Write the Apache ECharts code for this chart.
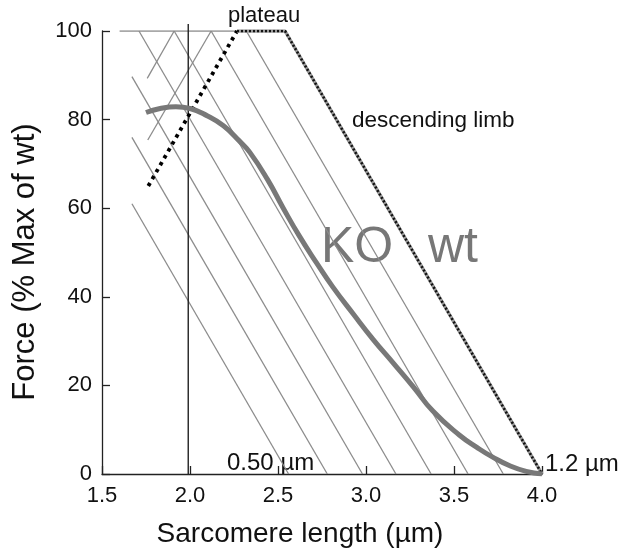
<!DOCTYPE html>
<html>
<head>
<meta charset="utf-8">
<script src="https://cdn.jsdelivr.net/npm/echarts@6/dist/echarts.min.js"></script>
<style>
  html, body { margin: 0; padding: 0; background: #fff; }
  #chart { width: 623px; height: 549px; }
</style>
</head>
<body>
<div id="chart"></div>
<script>
// thin overlap lines, [start, end] in (µm, %)
const descLines = [
  [[1.67, 61], [2.56, 0]],
  [[1.67, 76], [2.78, 0]],
  [[1.67, 89.7], [2.98, 0]],
  [[1.71, 100], [3.17, 0]],
  [[1.91, 100], [3.37, 0]],
  [[2.12, 100], [3.58, 0]],
  [[2.32, 100], [3.78, 0]]
];
const ascLines = [
  [[1.757, 89.3], [1.91, 100]],
  [[1.76, 75.4], [2.12, 100]]
];
const topLine = [[1.60, 100], [2.27, 100]];
const refLine = [[1.99, 0], [1.99, 101.6]];

// wt length-tension outline
const ascLimb = [[1.763, 65], [2.267, 100]];
const plateau = [[2.267, 100], [2.54, 100]];
const descLimb = [[2.54, 100], [4.0, 0]];

// KO curve
const koX = [1.75, 1.83, 1.92, 2.00, 2.10, 2.19, 2.28, 2.34, 2.44, 2.53, 2.62, 2.72,
  2.81, 2.93, 3.04, 3.16, 3.27, 3.38, 3.53, 3.63, 3.72, 3.82, 3.91, 4.00];
const koY = [81.6, 82.5, 82.9, 82.5, 80.8, 78.6, 75.2, 72.6, 66.5, 60.0, 53.8, 47.6,
  42.3, 36.0, 30.4, 24.8, 19.6, 14.2, 8.8, 6.0, 3.8, 1.8, 0.6, 0];

const FONT = '"Liberation Sans", Arial, Helvetica, sans-serif';

const thin = (data) => ({
  type: 'line',
  data: data,
  symbol: 'none',
  silent: true,
  lineStyle: { color: '#8c8c8c', width: 1.3 }
});

const text = (str, x, y, size, color, extra) => Object.assign({
  type: 'text',
  x: x,
  y: y,
  silent: true,
  style: {
    text: str,
    fill: color || '#111',
    font: size + 'px ' + FONT,
    textAlign: 'left',
    align: 'left',
    textVerticalAlign: 'middle',
    verticalAlign: 'middle'
  }
}, extra || {});

const centred = (g) => {
  g.style.textAlign = 'center';
  g.style.align = 'center';
  return g;
};

const series = []
  .concat(descLines.map(thin))
  .concat(ascLines.map(thin))
  .concat([thin(topLine)])
  .concat([{
    type: 'line',
    data: refLine,
    symbol: 'none',
    clip: false,
    silent: true,
    lineStyle: { color: '#222', width: 1.4 }
  }, {
    type: 'line',
    data: ascLimb,
    symbol: 'none',
    silent: true,
    lineStyle: { color: '#000', width: 3.8, type: [3.5, 4.5], cap: 'butt' }
  }, {
    type: 'line',
    data: plateau.concat(descLimb.slice(1)),
    symbol: 'none',
    silent: true,
    lineStyle: { color: '#9a9a9a', width: 3.4 }
  }, {
    type: 'line',
    data: plateau.concat(descLimb.slice(1)),
    symbol: 'none',
    silent: true,
    lineStyle: { color: '#111', width: 2.6, type: [2, 2], cap: 'butt' }
  }, {
    type: 'line',
    data: koX.map((x, i) => [x, koY[i]]),
    symbol: 'none',
    smooth: 0.5,
    silent: true,
    lineStyle: { color: '#787878', width: 5 }
  }]);

const chart = echarts.init(document.getElementById('chart'), null, { renderer: 'canvas' });
chart.setOption({
  animation: false,
  backgroundColor: '#fff',
  grid: { left: 102, right: 81, top: 31, bottom: 75 },
  xAxis: {
    type: 'value',
    min: 1.5,
    max: 4.0,
    interval: 0.5,
    splitLine: { show: false },
    axisLine: { onZero: false, lineStyle: { color: '#222', width: 1.3 } },
    axisTick: { inside: true, length: 8, lineStyle: { color: '#222', width: 1.3 } },
    axisLabel: {
      color: '#111', fontSize: 22, fontFamily: FONT, margin: 11,
      formatter: (v) => v.toFixed(1)
    }
  },
  yAxis: {
    type: 'value',
    min: 0,
    max: 100,
    interval: 20,
    splitLine: { show: false },
    axisLine: { show: true, lineStyle: { color: '#222', width: 1.3 } },
    axisTick: { show: true, inside: true, length: 8, lineStyle: { color: '#222', width: 1.3 } },
    axisLabel: { color: '#111', fontSize: 22, fontFamily: FONT, margin: 10 }
  },
  series: series,
  graphic: [
    text('plateau', 228, 16, 22),
    text('descending limb', 352, 121, 22.5),
    text('KO', 321, 248, 50, '#777'),
    text('wt', 428, 248, 50, '#777'),
    text('0.50 µm', 227, 463, 24),
    text('1.2 µm', 545, 464, 24),
    centred(text('Sarcomere length (µm)', 300, 534, 28)),
    centred(text('Force (% Max of wt)', 25, 262, 31, '#111', { rotation: Math.PI / 2 }))
  ]
});
</script>
</body>
</html>
